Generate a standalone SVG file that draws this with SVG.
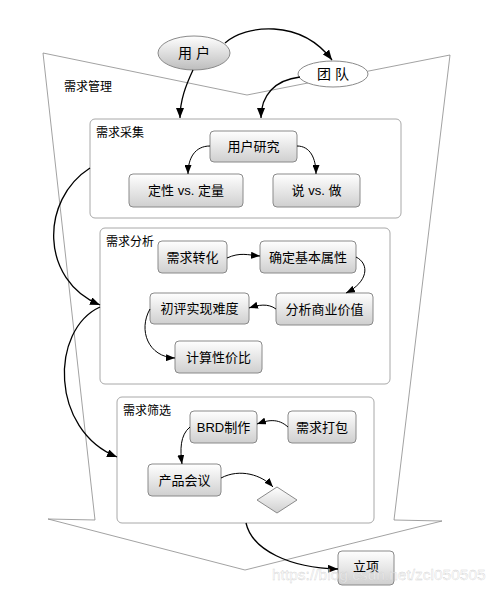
<svg xmlns="http://www.w3.org/2000/svg" width="500" height="592" viewBox="0 0 500 592">
<defs>
<linearGradient id="g" x1="0" y1="0" x2="0" y2="1"><stop offset="0" stop-color="#ffffff"/><stop offset="1" stop-color="#cfcfcf"/></linearGradient>
<linearGradient id="ge" x1="0" y1="0" x2="0" y2="1"><stop offset="0" stop-color="#ffffff"/><stop offset="1" stop-color="#bdbdbd"/></linearGradient>
<marker id="a" markerUnits="userSpaceOnUse" markerWidth="10" markerHeight="8" refX="10" refY="4" orient="auto"><path d="M0,0 L10,4 L0,8 z" fill="#000"/></marker>
<marker id="s" markerUnits="userSpaceOnUse" markerWidth="9" markerHeight="7" refX="9" refY="3.5" orient="auto"><path d="M0,0 L9,3.5 L0,7 z" fill="#000"/></marker>
</defs>
<style>
.t{font-family:"Liberation Sans","Noto Sans CJK SC",sans-serif;fill:#000;}
.n{fill:url(#g);stroke:#8a8a8a;stroke-width:1;}
.box{fill:#fff;stroke:#a8a8a8;stroke-width:1;}
.c{fill:none;stroke:#000;stroke-width:1;}
.cb{fill:none;stroke:#000;stroke-width:1.3;}
.nt{font-size:13px;text-anchor:middle;}
.lb{font-size:12px;}
</style>
<g id="funnel">
<polygon points="43,53 247,95 450,55 394,520 442,521 245,570 48,519 95,520" fill="#fff" stroke="#8a8a8a" stroke-width="0.8"/>
<text class="t lb" x="64" y="91">需求管理</text>
</g>
<g id="box-collect">
<rect class="box" x="90" y="119" width="311" height="99" rx="5"/>
<text class="t lb" x="96" y="137">需求采集</text>
</g>
<g id="box-analyze">
<rect class="box" x="100" y="228" width="290" height="156" rx="5"/>
<text class="t lb" x="106" y="246">需求分析</text>
</g>
<g id="box-filter">
<rect class="box" x="117" y="397" width="257" height="126" rx="5"/>
<text class="t lb" x="123" y="415">需求筛选</text>
</g>
<g id="user">
<ellipse cx="194" cy="53" rx="36" ry="17" fill="url(#ge)" stroke="#8a8a8a"/>
<text class="t" x="194" y="58" font-size="14" text-anchor="middle">用 户</text>
</g>
<g id="team">
<ellipse cx="333" cy="74" rx="35" ry="13" fill="#fff" stroke="#8a8a8a"/>
<text class="t" x="333" y="79" font-size="14" text-anchor="middle">团 队</text>
</g>
<g id="n-research"><rect class="n" x="210" y="131" width="87" height="31" rx="4"/><text class="t nt" x="253.5" y="151">用户研究</text></g>
<g id="n-qual"><rect class="n" x="129" y="174" width="114" height="33" rx="4"/><text class="t nt" x="186" y="195">定性 vs. 定量</text></g>
<g id="n-say"><rect class="n" x="273" y="174" width="87" height="33" rx="4"/><text class="t nt" x="316.5" y="195">说 vs. 做</text></g>
<g id="n-convert"><rect class="n" x="158" y="241" width="69" height="32" rx="4"/><text class="t nt" x="192.5" y="262">需求转化</text></g>
<g id="n-attr"><rect class="n" x="260" y="241" width="96" height="32" rx="4"/><text class="t nt" x="308" y="262">确定基本属性</text></g>
<g id="n-diff"><rect class="n" x="150" y="293" width="99" height="31" rx="4"/><text class="t nt" x="199.5" y="313">初评实现难度</text></g>
<g id="n-value"><rect class="n" x="276" y="293" width="97" height="32" rx="4"/><text class="t nt" x="324.5" y="314">分析商业价值</text></g>
<g id="n-ratio"><rect class="n" x="175" y="341" width="87" height="32" rx="4"/><text class="t nt" x="218.5" y="362">计算性价比</text></g>
<g id="n-brd"><rect class="n" x="190" y="411" width="67" height="32" rx="4"/><text class="t nt" x="223.5" y="432">BRD制作</text></g>
<g id="n-pack"><rect class="n" x="288" y="411" width="68" height="32" rx="4"/><text class="t nt" x="322" y="432">需求打包</text></g>
<g id="n-meeting"><rect class="n" x="148" y="464" width="73" height="32" rx="4"/><text class="t nt" x="184.5" y="485">产品会议</text></g>
<g id="n-decision"><polygon class="n" points="257,500 277,487 297,500 277,513"/></g>
<g id="n-project"><rect class="n" x="338" y="551" width="56" height="34" rx="4"/><text class="t nt" x="366" y="571">立项</text></g>
<g id="connectors">
<path class="cb" d="M225,43 C245,25 300,18 332,60" marker-end="url(#a)"/>
<path class="cb" d="M193,70 C186,85 180,100 180,118" marker-end="url(#a)"/>
<path class="cb" d="M300,77 C275,80 261,95 261,118" marker-end="url(#a)"/>
<path class="c" d="M210,146 C195,146 188,158 188,174" marker-end="url(#s)"/>
<path class="c" d="M297,146 C310,146 316,158 316,174" marker-end="url(#s)"/>
<path class="c" d="M227,258 C240,252 248,255 260,256" marker-end="url(#s)"/>
<path class="c" d="M356,257 C370,264 368,282 346,293" marker-end="url(#s)"/>
<path class="c" d="M276,309 C268,303 258,305 249,308" marker-end="url(#s)"/>
<path class="c" d="M150,309 C138,330 148,357 175,358" marker-end="url(#s)"/>
<path class="c" d="M288,427 C278,418 268,420 257,424" marker-end="url(#s)"/>
<path class="c" d="M190,427 C180,435 180,450 182,464" marker-end="url(#s)"/>
<path class="c" d="M221,478 C240,468 262,475 273,487" marker-end="url(#s)"/>
<path class="cb" d="M90,168 C40,200 40,280 100,305" marker-end="url(#a)"/>
<path class="cb" d="M100,307 C50,330 50,430 117,457" marker-end="url(#a)"/>
<path class="cb" d="M246,523 C252,550 290,568 338,569" marker-end="url(#a)"/>
</g>
<text x="272" y="580" font-family="Liberation Sans, sans-serif" font-size="15.5" fill="#ffffff" fill-opacity="0.5" stroke="#c8c8c8" stroke-width="0.4" stroke-opacity="0.8">https://blog.csdn.net/zcl050505</text>
</svg>
